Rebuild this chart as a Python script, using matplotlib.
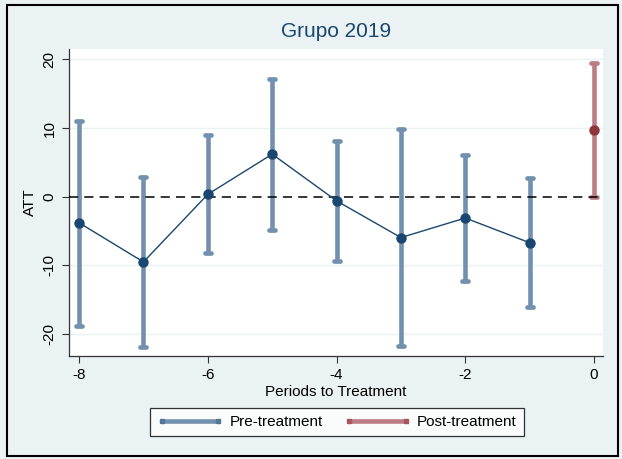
import matplotlib.pyplot as plt
from matplotlib.lines import Line2D
from matplotlib.markers import MarkerStyle

plt.rcParams['font.family'] = ['Liberation Sans', 'DejaVu Sans']
plt.rcParams['axes.unicode_minus'] = False

periods = [-8, -7, -6, -5, -4, -3, -2, -1]
att_pre = [-3.8, -9.5, 0.35, 6.2, -0.6, -5.95, -3.1, -6.7]
upper_pre = [11.1, 2.9, 8.95, 17.2, 8.1, 9.8, 6.1, 2.7]
lower_pre = [-18.9, -21.9, -8.2, -4.8, -9.3, -21.7, -12.3, -16.0]

post_periods = [0]
att_post = [9.7]
upper_post = [19.5]
lower_post = [-0.1]

bg = '#EAF2F3'
navy = '#1A476F'
navy_bar = '#7391AE'
navy_end = '#55769A'
red = '#90353B'
red_bar = '#BC7D85'
red_end = '#A65862'

fig = plt.figure(figsize=(6.22, 4.59), dpi=100, facecolor=bg)
ax = fig.add_axes([0.111, 0.2244, 0.8585, 0.6686])
ax.set_facecolor('white')

# outer frame
fig.patches.append(plt.Rectangle((0.011, 0.006), 0.983, 0.983, transform=fig.transFigure,
                                 fill=False, edgecolor='black', lw=1.5))

for y in [-20, -10, 10, 20]:
    ax.axhline(y, color=bg, lw=1.0, zorder=0)

cap = MarkerStyle('_', capstyle='round')

def draw_ci(xs, lo, hi, color):
    ax.vlines(xs, lo, hi, color=color, lw=3.3, zorder=2)
    for ys in (lo, hi):
        ax.plot(xs, ys, linestyle='none', marker=cap, markersize=4.5,
                markeredgewidth=3.4, color=color, zorder=2)

draw_ci(periods, lower_pre, upper_pre, navy_bar)
draw_ci(post_periods, lower_post, upper_post, red_bar)

ax.axhline(0, color='black', lw=1.1, ls=(0, (6, 4)), zorder=3)

ax.plot(periods, att_pre, color=navy, lw=1.0, marker='o', markersize=6.5, zorder=4)
ax.plot(post_periods, att_post, color=red, linestyle='none', marker='o', markersize=6.5, zorder=4)

ax.set_xlim(-8.156, 0.14)
ax.set_ylim(-23.2, 21.5)
ax.set_xticks([-8, -6, -4, -2, 0])
ax.set_yticks([-20, -10, 0, 10, 20])
ax.set_yticklabels(['-20', '-10', '0', '10', '20'], rotation=90, va='center')
ax.tick_params(axis='both', labelsize=11, length=5, width=0.8, color='#333333')
ax.tick_params(axis='y', pad=4)

for s in ['top', 'right']:
    ax.spines[s].set_visible(False)
for s in ['left', 'bottom']:
    ax.spines[s].set_color('#333333')
    ax.spines[s].set_linewidth(0.9)

ax.set_xlabel('Periods to Treatment', fontsize=11, labelpad=2)
ax.set_ylabel('ATT', fontsize=11, labelpad=4)
ax.set_title('Grupo 2019', fontsize=15, color=navy, pad=9)

handles = [
    Line2D([0], [0], color=navy_bar, lw=3.3, marker='s', markersize=3.5,
           markerfacecolor=navy_end, markeredgecolor=navy_end),
    Line2D([0], [0], color=red_bar, lw=3.3, marker='s', markersize=3.5,
           markerfacecolor=red_end, markeredgecolor=red_end),
]
leg = fig.legend(handles, ['Pre-treatment', 'Post-treatment'], loc='center',
                 bbox_to_anchor=(0.542, 0.08), ncol=2, numpoints=2, fontsize=11,
                 frameon=True, fancybox=False, edgecolor='black', handlelength=4.3,
                 columnspacing=1.4, handletextpad=0.45, borderpad=0.45,
                 borderaxespad=0.0)
leg.get_frame().set_linewidth(0.9)

fig.savefig('out.png', dpi=100, facecolor=bg)
